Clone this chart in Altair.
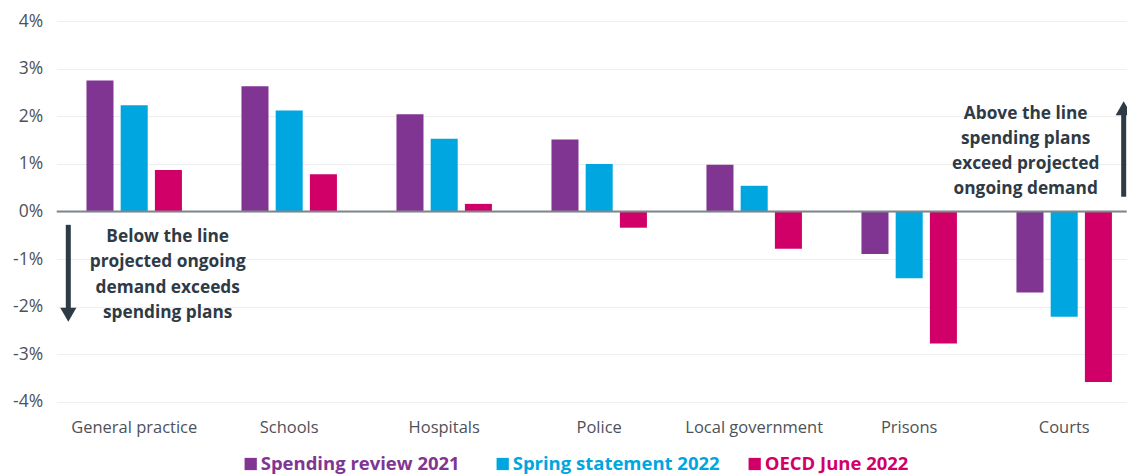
import altair as alt
import pandas as pd

categories = ["General practice", "Schools", "Hospitals", "Police",
              "Local government", "Prisons", "Courts"]
series = ["Spending review 2021", "Spring statement 2022", "OECD June 2022"]
colors = ["#813593", "#00a6df", "#d10069"]

sr2021 = [2.75, 2.63, 2.04, 1.51, 0.98, -0.89, -1.70]
ss2022 = [2.23, 2.12, 1.53, 1.00, 0.54, -1.40, -2.21]
oecd2022 = [0.87, 0.78, 0.16, -0.34, -0.78, -2.77, -3.58]

y_ticks = [-4, -3, -2, -1, 0, 1, 2, 3, 4]

below_lines = ["Below the line", "projected ongoing", "demand exceeds", "spending plans"]
below_y = [-0.53, -1.07, -1.60, -2.14]
above_lines = ["Above the line", "spending plans", "exceed projected", "ongoing demand"]
above_y = [2.04, 1.52, 0.99, 0.47]

FONT = "Open Sans"
DARK = "#2e3a45"
LABEL = "#4d5259"

rows = []
for s, vals in zip(series, [sr2021, ss2022, oecd2022]):
    for c, v in zip(categories, vals):
        rows.append({"category": c, "series": s, "value": v})
df = pd.DataFrame(rows)

color_enc = alt.Color("series:N", scale=alt.Scale(domain=series, range=colors), legend=None)

bars = alt.Chart(df).mark_bar().encode(
    x=alt.X("category:N", sort=categories,
            scale=alt.Scale(range=[0, 1085], paddingInner=0, paddingOuter=0),
            axis=alt.Axis(title=None, labelAngle=0, ticks=False, domain=False,
                          labelFontSize=16.5, labelFont=FONT, labelColor=LABEL,
                          labelPadding=18, grid=False)),
    xOffset=alt.XOffset("series:N", sort=series,
                        scale=alt.Scale(paddingInner=0.21, paddingOuter=0.87)),
    y=alt.Y("value:Q", scale=alt.Scale(domain=[-4, 4], nice=False),
            axis=alt.Axis(title=None, values=y_ticks, labelExpr="datum.value + '%'",
                          ticks=False, domain=False, grid=True, gridColor="#eeeeee",
                          gridWidth=1, labelFontSize=17.5, labelFont=FONT,
                          labelColor=LABEL, labelPadding=14)),
    color=color_enc,
)

zero = alt.Chart(pd.DataFrame({"y": [0]})).mark_rule(color="#80868b", strokeWidth=2).encode(
    y="y:Q")

below_df = pd.DataFrame({"text": below_lines, "y": below_y})
above_df = pd.DataFrame({"text": above_lines, "y": above_y})

below_text = alt.Chart(below_df).mark_text(
    font=FONT, fontSize=17.3, fontWeight="bold", color=DARK, align="center", baseline="middle"
).encode(x=alt.value(111), y="y:Q", text="text:N")
above_text = alt.Chart(above_df).mark_text(
    font=FONT, fontSize=17.3, fontWeight="bold", color=DARK, align="center", baseline="middle"
).encode(x=alt.value(969), y="y:Q", text="text:N")

down_shaft = alt.Chart(pd.DataFrame({"y": [-0.28], "y2": [-2.05]})).mark_rule(
    color=DARK, strokeWidth=5).encode(x=alt.value(11.6), y="y:Q", y2="y2:Q")
down_head = alt.Chart(pd.DataFrame({"y": [-2.17]})).mark_point(
    shape="triangle-down", filled=True, color=DARK, size=260, opacity=1).encode(
    x=alt.value(11.6), y="y:Q")
up_shaft = alt.Chart(pd.DataFrame({"y": [0.31], "y2": [2.05]})).mark_rule(
    color=DARK, strokeWidth=5).encode(x=alt.value(1067), y="y:Q", y2="y2:Q")
up_head = alt.Chart(pd.DataFrame({"y": [2.17]})).mark_point(
    shape="triangle-up", filled=True, color=DARK, size=260, opacity=1).encode(
    x=alt.value(1067), y="y:Q")

leg_df = pd.DataFrame({"series": series})
leg_x = alt.X("series:N", sort=series,
              scale=alt.Scale(type="point", domain=series, range=[194, 698], padding=0),
              axis=None)
leg_sq = alt.Chart(leg_df).mark_square(size=150, opacity=1).encode(
    x=leg_x, y=alt.value(443), color=color_enc)
leg_tx = alt.Chart(leg_df).mark_text(
    font=FONT, fontSize=18.5, fontWeight="bold", align="left", baseline="middle", dx=10
).encode(x=leg_x, y=alt.value(443), text="series:N", color=color_enc)

chart = alt.layer(
    bars, zero, below_text, above_text, down_shaft, down_head, up_shaft, up_head,
    leg_sq, leg_tx
).resolve_scale(x="independent").properties(
    width=1070, height=381,
    autosize=alt.AutoSizeParams(type="none"),
    padding={"left": 48.7, "top": 13, "right": 0, "bottom": 72},
).configure_view(stroke=None)

chart.save("out.html", embed_options={"renderer": "svg", "actions": False})
